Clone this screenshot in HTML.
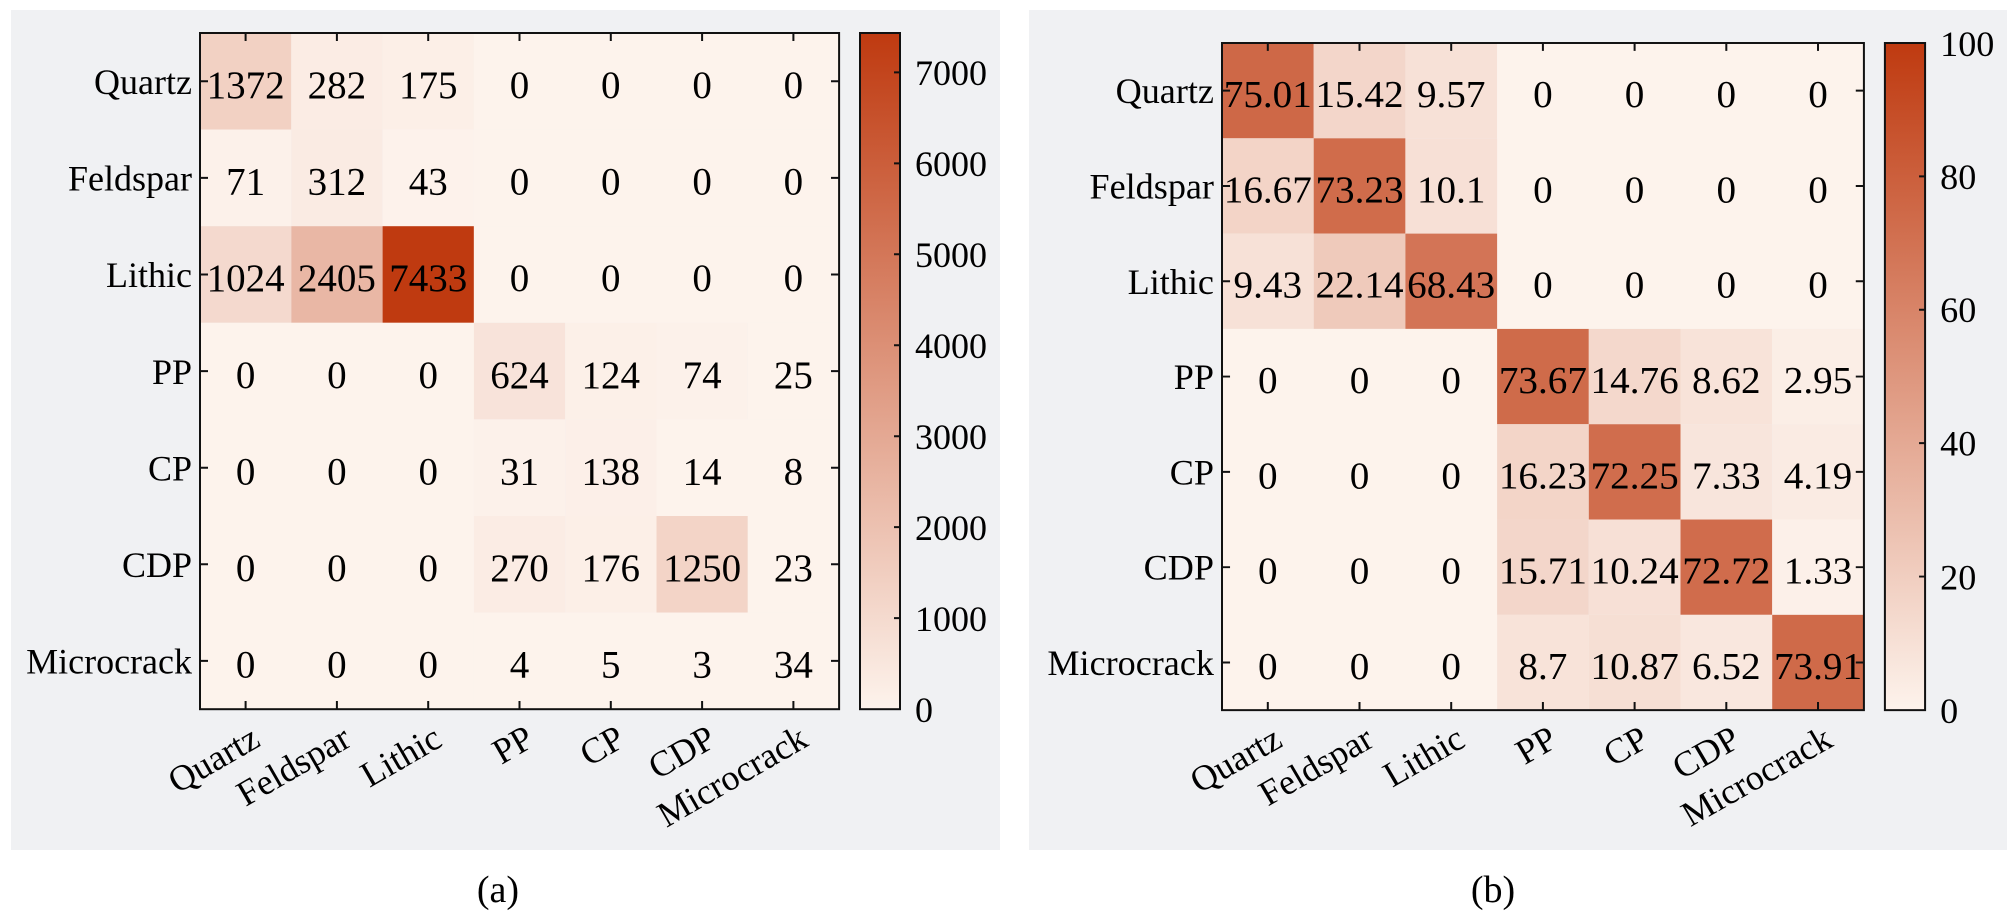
<!DOCTYPE html>
<html><head><meta charset="utf-8"><style>
html,body{margin:0;padding:0;background:#fff;}
svg{display:block;font-family:"Liberation Serif",serif;}
</style></head><body>
<svg width="2007" height="915" viewBox="0 0 2007 915" xmlns="http://www.w3.org/2000/svg">
<defs>
<linearGradient id="cb" x1="0" y1="0" x2="0" y2="1">
<stop offset="0" stop-color="#bf3a10"/><stop offset="1" stop-color="#fdf3ec"/>
</linearGradient>
</defs>
<rect x="0" y="0" width="2007" height="915" fill="#fff"/>
<rect x="11" y="10" width="989" height="840" fill="#f0f1f3"/>
<rect x="1029" y="10" width="978" height="840" fill="#f0f1f3"/>
<text x="498" y="902" font-size="38" text-anchor="middle">(a)</text>
<text x="1493" y="902" font-size="38" text-anchor="middle">(b)</text>

<!-- Panel A -->
<g transform="translate(200,33)">
<g>
<rect x="0" y="0" width="91.3" height="96.6" fill="#f2d1c3"/>
<rect x="91.3" y="0" width="91.3" height="96.6" fill="#fbece4"/>
<rect x="182.6" y="0" width="91.3" height="96.6" fill="#fcefe7"/>
<rect x="273.9" y="0" width="365.2" height="96.6" fill="#fdf3ec"/>
<rect x="0" y="96.6" width="91.3" height="96.6" fill="#fcf1ea"/>
<rect x="91.3" y="96.6" width="91.3" height="96.6" fill="#faebe3"/>
<rect x="182.6" y="96.6" width="91.3" height="96.6" fill="#fdf2eb"/>
<rect x="273.9" y="96.6" width="365.2" height="96.6" fill="#fdf3ec"/>
<rect x="0" y="193.2" width="91.3" height="96.6" fill="#f4d9ce"/>
<rect x="91.3" y="193.2" width="91.3" height="96.6" fill="#e9b7a5"/>
<rect x="182.6" y="193.2" width="91.3" height="96.6" fill="#bf3a10"/>
<rect x="273.9" y="193.2" width="365.2" height="96.6" fill="#fdf3ec"/>
<rect x="0" y="289.8" width="273.9" height="386.4" fill="#fdf3ec"/>
<rect x="273.9" y="289.8" width="91.3" height="96.6" fill="#f8e3da"/>
<rect x="365.2" y="289.8" width="91.3" height="96.6" fill="#fcf0e8"/>
<rect x="456.5" y="289.8" width="91.3" height="96.6" fill="#fcf1ea"/>
<rect x="547.8" y="289.8" width="91.3" height="96.6" fill="#fdf3ec"/>
<rect x="273.9" y="386.4" width="91.3" height="96.6" fill="#fcf1ea"/>
<rect x="365.2" y="386.4" width="91.3" height="96.6" fill="#fcefe8"/>
<rect x="456.5" y="386.4" width="182.6" height="96.6" fill="#fdf3ec"/>
<rect x="273.9" y="483" width="91.3" height="96.6" fill="#fbece4"/>
<rect x="365.2" y="483" width="91.3" height="96.6" fill="#fcefe7"/>
<rect x="456.5" y="483" width="91.3" height="96.6" fill="#f3d4c7"/>
<rect x="547.8" y="483" width="91.3" height="96.6" fill="#fdf3ec"/>
<rect x="273.9" y="579.6" width="365.2" height="96.6" fill="#fdf3ec"/>
</g>
<rect x="0" y="0" width="639.1" height="676.2" fill="none" stroke="#111" stroke-width="2"/>
<g stroke="#111" stroke-width="2">
<path d="M45.6 0v8M136.9 0v8M228.2 0v8M319.5 0v8M410.8 0v8M502.1 0v8M593.4 0v8"/>
<path d="M45.6 676v-8M136.9 676v-8M228.2 676v-8M319.5 676v-8M410.8 676v-8M502.1 676v-8M593.4 676v-8"/>
<path d="M0 48.3h8M0 144.9h8M0 241.5h8M0 338.1h8M0 434.7h8M0 531.3h8M0 627.9h8"/>
<path d="M639 48.3h-8M639 144.9h-8M639 241.5h-8M639 338.1h-8M639 434.7h-8M639 531.3h-8M639 627.9h-8"/>
</g>
<g font-size="39" text-anchor="middle">
<text x="45.6" y="65">1372</text><text x="136.9" y="65">282</text><text x="228.2" y="65">175</text><text x="319.5" y="65">0</text><text x="410.8" y="65">0</text><text x="502.1" y="65">0</text><text x="593.4" y="65">0</text>
<text x="45.6" y="161.6">71</text><text x="136.9" y="161.6">312</text><text x="228.2" y="161.6">43</text><text x="319.5" y="161.6">0</text><text x="410.8" y="161.6">0</text><text x="502.1" y="161.6">0</text><text x="593.4" y="161.6">0</text>
<text x="45.6" y="258.2">1024</text><text x="136.9" y="258.2">2405</text><text x="228.2" y="258.2">7433</text><text x="319.5" y="258.2">0</text><text x="410.8" y="258.2">0</text><text x="502.1" y="258.2">0</text><text x="593.4" y="258.2">0</text>
<text x="45.6" y="354.8">0</text><text x="136.9" y="354.8">0</text><text x="228.2" y="354.8">0</text><text x="319.5" y="354.8">624</text><text x="410.8" y="354.8">124</text><text x="502.1" y="354.8">74</text><text x="593.4" y="354.8">25</text>
<text x="45.6" y="451.4">0</text><text x="136.9" y="451.4">0</text><text x="228.2" y="451.4">0</text><text x="319.5" y="451.4">31</text><text x="410.8" y="451.4">138</text><text x="502.1" y="451.4">14</text><text x="593.4" y="451.4">8</text>
<text x="45.6" y="548">0</text><text x="136.9" y="548">0</text><text x="228.2" y="548">0</text><text x="319.5" y="548">270</text><text x="410.8" y="548">176</text><text x="502.1" y="548">1250</text><text x="593.4" y="548">23</text>
<text x="45.6" y="644.6">0</text><text x="136.9" y="644.6">0</text><text x="228.2" y="644.6">0</text><text x="319.5" y="644.6">4</text><text x="410.8" y="644.6">5</text><text x="502.1" y="644.6">3</text><text x="593.4" y="644.6">34</text>
</g>
<g font-size="36" text-anchor="end">
<text x="-8" y="61">Quartz</text><text x="-8" y="157.6">Feldspar</text><text x="-8" y="254.2">Lithic</text><text x="-8" y="350.8">PP</text><text x="-8" y="447.4">CP</text><text x="-8" y="544">CDP</text><text x="-8" y="640.6">Microcrack</text>
</g>
<g font-size="36" text-anchor="end">
<text transform="translate(62,712) rotate(-30)">Quartz</text>
<text transform="translate(153,712) rotate(-30)">Feldspar</text>
<text transform="translate(244,712) rotate(-30)">Lithic</text>
<text transform="translate(336,712) rotate(-30)">PP</text>
<text transform="translate(427,712) rotate(-30)">CP</text>
<text transform="translate(518,712) rotate(-30)">CDP</text>
<text transform="translate(610,712) rotate(-30)">Microcrack</text>
</g>
<rect x="660" y="0" width="40" height="676.2" fill="url(#cb)" stroke="#111" stroke-width="2"/>
<g stroke="#111" stroke-width="2"><path d="M700 39.4h-6M700 130.4h-6M700 221.3h-6M700 312.3h-6M700 403.2h-6M700 494.1h-6M700 585.1h-6"/></g>
<g font-size="36">
<text x="715" y="52">7000</text><text x="715" y="143">6000</text><text x="715" y="234">5000</text><text x="715" y="325">4000</text><text x="715" y="416">3000</text><text x="715" y="507">2000</text><text x="715" y="598">1000</text><text x="715" y="689">0</text>
</g>
</g>

<!-- Panel B -->
<g transform="translate(1222,43) scale(1.0044,0.9866)">
<g>
<rect x="0" y="0" width="91.3" height="96.6" fill="#ce6847"/>
<rect x="91.3" y="0" width="91.3" height="96.6" fill="#f3d6ca"/>
<rect x="182.6" y="0" width="91.3" height="96.6" fill="#f7e1d7"/>
<rect x="273.9" y="0" width="365.2" height="289.8" fill="#fdf3ec"/>
<rect x="0" y="96.6" width="91.3" height="96.6" fill="#f3d4c7"/>
<rect x="91.3" y="96.6" width="91.3" height="96.6" fill="#d06c4b"/>
<rect x="182.6" y="96.6" width="91.3" height="96.6" fill="#f7e0d6"/>
<rect x="0" y="193.2" width="91.3" height="96.6" fill="#f7e1d7"/>
<rect x="91.3" y="193.2" width="91.3" height="96.6" fill="#efcabb"/>
<rect x="182.6" y="193.2" width="91.3" height="96.6" fill="#d37456"/>
<rect x="0" y="289.8" width="273.9" height="386.4" fill="#fdf3ec"/>
<rect x="273.9" y="289.8" width="91.3" height="96.6" fill="#cf6b4a"/>
<rect x="365.2" y="289.8" width="91.3" height="96.6" fill="#f4d8cc"/>
<rect x="456.5" y="289.8" width="91.3" height="96.6" fill="#f8e3d9"/>
<rect x="547.8" y="289.8" width="91.3" height="96.6" fill="#fbeee6"/>
<rect x="273.9" y="386.4" width="91.3" height="96.6" fill="#f3d5c8"/>
<rect x="365.2" y="386.4" width="91.3" height="96.6" fill="#d06d4d"/>
<rect x="456.5" y="386.4" width="91.3" height="96.6" fill="#f8e5dc"/>
<rect x="547.8" y="386.4" width="91.3" height="96.6" fill="#faebe3"/>
<rect x="273.9" y="483" width="91.3" height="96.6" fill="#f3d6ca"/>
<rect x="365.2" y="483" width="91.3" height="96.6" fill="#f7e0d6"/>
<rect x="456.5" y="483" width="91.3" height="96.6" fill="#d06c4c"/>
<rect x="547.8" y="483" width="91.3" height="96.6" fill="#fcf0e9"/>
<rect x="273.9" y="579.6" width="91.3" height="96.6" fill="#f8e3d9"/>
<rect x="365.2" y="579.6" width="91.3" height="96.6" fill="#f6dfd4"/>
<rect x="456.5" y="579.6" width="91.3" height="96.6" fill="#f9e7de"/>
<rect x="547.8" y="579.6" width="91.3" height="96.6" fill="#cf6a49"/>
</g>
<rect x="0" y="0" width="639.1" height="676.2" fill="none" stroke="#111" stroke-width="2"/>
<g stroke="#111" stroke-width="2">
<path d="M45.6 0v8M136.9 0v8M228.2 0v8M319.5 0v8M410.8 0v8M502.1 0v8M593.4 0v8"/>
<path d="M45.6 676v-8M136.9 676v-8M228.2 676v-8M319.5 676v-8M410.8 676v-8M502.1 676v-8M593.4 676v-8"/>
<path d="M0 48.3h8M0 144.9h8M0 241.5h8M0 338.1h8M0 434.7h8M0 531.3h8M0 627.9h8"/>
<path d="M639 48.3h-8M639 144.9h-8M639 241.5h-8M639 338.1h-8M639 434.7h-8M639 531.3h-8M639 627.9h-8"/>
</g>
<g font-size="39" text-anchor="middle">
<text x="45.6" y="65">75.01</text><text x="136.9" y="65">15.42</text><text x="228.2" y="65">9.57</text><text x="319.5" y="65">0</text><text x="410.8" y="65">0</text><text x="502.1" y="65">0</text><text x="593.4" y="65">0</text>
<text x="45.6" y="161.6">16.67</text><text x="136.9" y="161.6">73.23</text><text x="228.2" y="161.6">10.1</text><text x="319.5" y="161.6">0</text><text x="410.8" y="161.6">0</text><text x="502.1" y="161.6">0</text><text x="593.4" y="161.6">0</text>
<text x="45.6" y="258.2">9.43</text><text x="136.9" y="258.2">22.14</text><text x="228.2" y="258.2">68.43</text><text x="319.5" y="258.2">0</text><text x="410.8" y="258.2">0</text><text x="502.1" y="258.2">0</text><text x="593.4" y="258.2">0</text>
<text x="45.6" y="354.8">0</text><text x="136.9" y="354.8">0</text><text x="228.2" y="354.8">0</text><text x="319.5" y="354.8">73.67</text><text x="410.8" y="354.8">14.76</text><text x="502.1" y="354.8">8.62</text><text x="593.4" y="354.8">2.95</text>
<text x="45.6" y="451.4">0</text><text x="136.9" y="451.4">0</text><text x="228.2" y="451.4">0</text><text x="319.5" y="451.4">16.23</text><text x="410.8" y="451.4">72.25</text><text x="502.1" y="451.4">7.33</text><text x="593.4" y="451.4">4.19</text>
<text x="45.6" y="548">0</text><text x="136.9" y="548">0</text><text x="228.2" y="548">0</text><text x="319.5" y="548">15.71</text><text x="410.8" y="548">10.24</text><text x="502.1" y="548">72.72</text><text x="593.4" y="548">1.33</text>
<text x="45.6" y="644.6">0</text><text x="136.9" y="644.6">0</text><text x="228.2" y="644.6">0</text><text x="319.5" y="644.6">8.7</text><text x="410.8" y="644.6">10.87</text><text x="502.1" y="644.6">6.52</text><text x="593.4" y="644.6">73.91</text>
</g>
<g font-size="36" text-anchor="end">
<text x="-8" y="61">Quartz</text><text x="-8" y="157.6">Feldspar</text><text x="-8" y="254.2">Lithic</text><text x="-8" y="350.8">PP</text><text x="-8" y="447.4">CP</text><text x="-8" y="544">CDP</text><text x="-8" y="640.6">Microcrack</text>
</g>
<g font-size="36" text-anchor="end">
<text transform="translate(62,712) rotate(-30)">Quartz</text>
<text transform="translate(153,712) rotate(-30)">Feldspar</text>
<text transform="translate(244,712) rotate(-30)">Lithic</text>
<text transform="translate(336,712) rotate(-30)">PP</text>
<text transform="translate(427,712) rotate(-30)">CP</text>
<text transform="translate(518,712) rotate(-30)">CDP</text>
<text transform="translate(610,712) rotate(-30)">Microcrack</text>
</g>
<rect x="660" y="0" width="40" height="676.2" fill="url(#cb)" stroke="#111" stroke-width="2"/>
<g stroke="#111" stroke-width="2"><path d="M700 135.2h-6M700 270.4h-6M700 405.6h-6M700 540.8h-6"/></g>
<g font-size="36">
<text x="715" y="13">100</text><text x="715" y="148">80</text><text x="715" y="283">60</text><text x="715" y="418">40</text><text x="715" y="554">20</text><text x="715" y="689">0</text>
</g>
</g>
</svg>
</body></html>
